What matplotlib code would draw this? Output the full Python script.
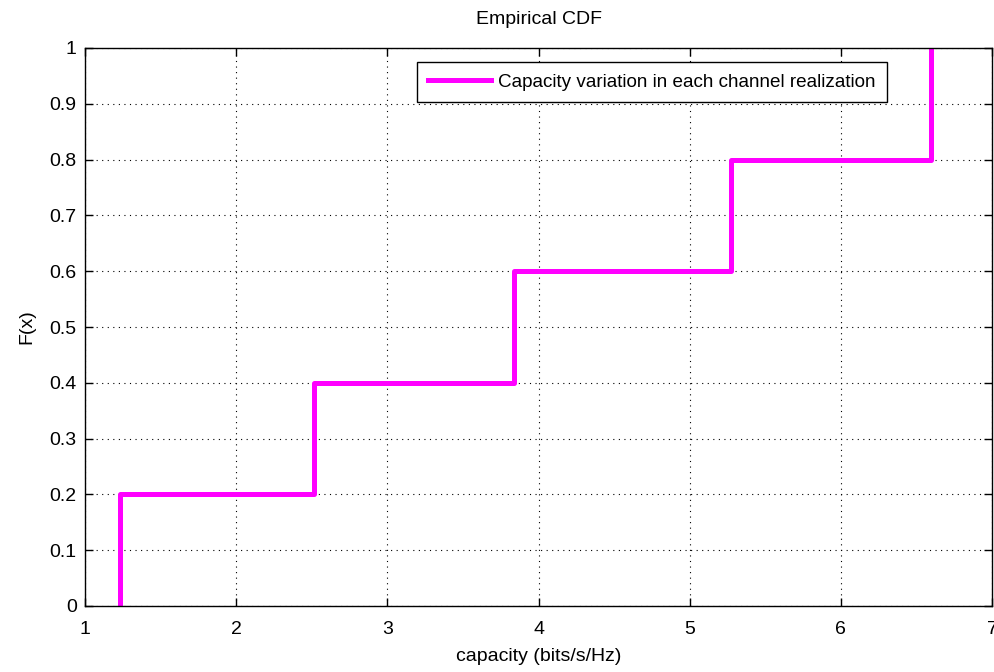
import matplotlib
matplotlib.use("Agg")
import matplotlib.pyplot as plt
import numpy as np

capacity = [1.231, 2.513, 3.835, 5.276, 6.598]
cdf = [0.0, 0.2, 0.4, 0.6, 0.8, 1.0]
xticks = [1, 2, 3, 4, 5, 6, 7]
yticks = [0, 0.1, 0.2, 0.3, 0.4, 0.5, 0.6, 0.7, 0.8, 0.9, 1]

plt.rcParams['font.family'] = ['Liberation Sans', 'DejaVu Sans']
fig = plt.figure(figsize=(9.94, 6.72), dpi=100)
ax = fig.add_axes([85/994, 1-606/672, (992-85)/994, (606-48)/672])

xs = [capacity[0]] + capacity
ys = cdf
ax.step(xs, ys, where='post', color='#ff00ff', lw=3.6,
        label='Capacity variation in each channel realization')

ax.set_xlim(1, 7)
ax.set_ylim(0, 1)
ax.set_xticks(xticks)
ax.set_yticks(yticks)
ax.set_xticklabels([str(t) for t in xticks])
ax.set_yticklabels(['0'] + [f'{t:g}' for t in yticks[1:-1]] + ['1'])
ax.grid(True, color='black', linestyle=(0, (1, 4)), lw=0.8)
ax.tick_params(direction='in', top=True, right=True, labelsize=14, length=6, width=1)
ax.tick_params(axis='x', pad=11)
ax.tick_params(axis='y', pad=6)
for s in ax.spines.values():
    s.set_linewidth(1)
ax.set_title('Empirical CDF', fontsize=14, pad=17)
ax.set_xlabel('capacity (bits/s/Hz)', fontsize=14, labelpad=7)
ax.set_ylabel('F(x)', fontsize=14, labelpad=10)
leg = ax.legend(loc='upper right', bbox_to_anchor=((887-85)/907, (606-62)/558),
                borderaxespad=0,
                fontsize=13.6, fancybox=False, framealpha=1, edgecolor='black',
                handlelength=3.3, borderpad=0.6, handletextpad=0.4)
leg.get_frame().set_linewidth(1)
fig.savefig('out.png', dpi=100)
